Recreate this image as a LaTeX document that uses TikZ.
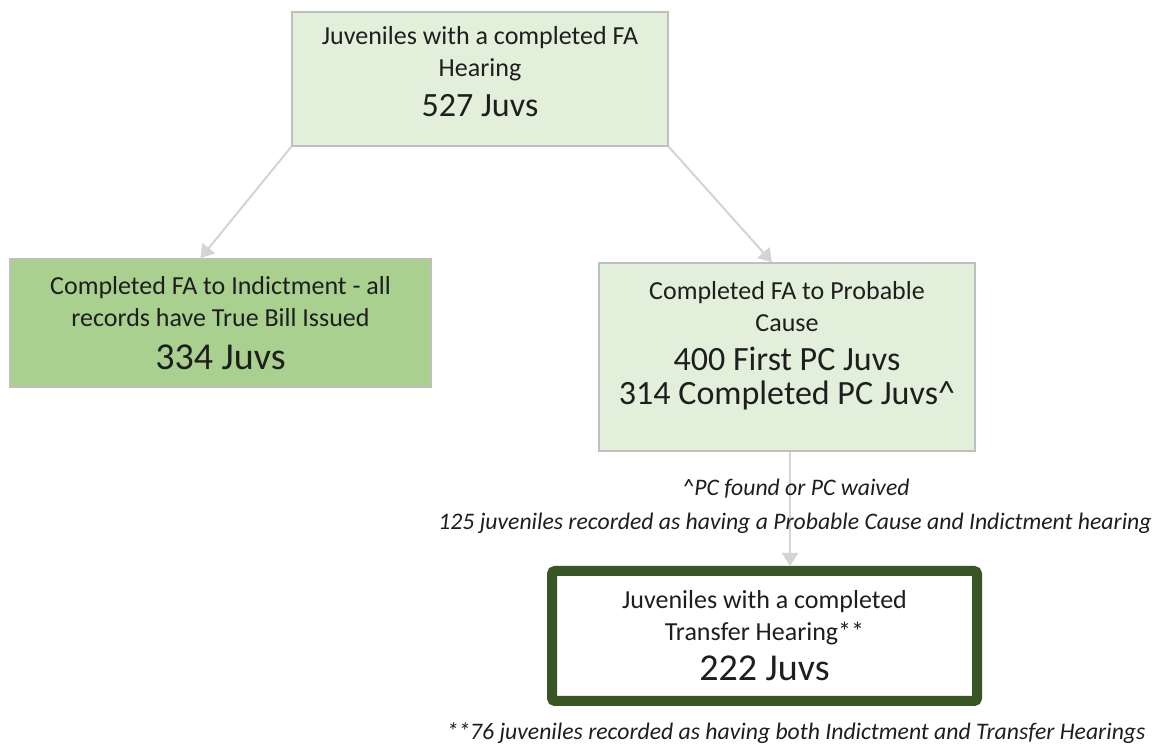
\documentclass[tikz,border=0pt]{standalone}
\usepackage{fontspec}
\setmainfont{Carlito}
\usetikzlibrary{arrows.meta}
\newcommand{\boxtxt}{\fontsize{26}{32}\selectfont}
\newcommand{\boxnum}{\fontsize{34}{40}\selectfont}
\newcommand{\boxbig}{\fontsize{38}{44}\selectfont}
\begin{document}
\begin{tikzpicture}[x=1pt,y=1pt,
  box/.style={draw=boxBorder,line width=1.5pt,align=center,text=textColor,
    inner sep=0pt,font=\boxtxt},
  link/.style={draw=linkColor,line width=2pt,
    -{Triangle[width=16pt,length=13pt]}},
  note/.style={text=textColor,inner sep=0pt,
    font=\fontsize{23.7}{28}\selectfont\itshape}]
\definecolor{boxBorder}{RGB}{191,191,191}
\definecolor{paleGreen}{RGB}{226,239,218}
\definecolor{midGreen}{RGB}{169,208,142}
\definecolor{darkGreen}{RGB}{56,86,35}
\definecolor{linkColor}{RGB}{212,212,212}
\definecolor{textColor}{RGB}{30,30,30}
\path[use as bounding box,fill=white] (0,0) rectangle (1152,749);

% boxes
\node[box,fill=paleGreen,minimum width=376,minimum height=134] (fa) at (480,670)
  {Juveniles with a completed FA\\ Hearing\\[8pt] {\boxnum 527 Juvs}\\[-16pt] ~};
\node[box,fill=midGreen,minimum width=421,minimum height=128] (indict) at (220.5,426)
  {Completed FA to Indictment - all\\ records have True Bill Issued\\[11pt] {\boxbig 334 Juvs}};
\node[box,fill=paleGreen,minimum width=376,minimum height=188] (pc) at (787,392)
  {Completed FA to Probable\\ Cause\\[7pt] {\boxnum 400 First PC Juvs}\\[2pt]
   {\boxnum 314 Completed PC Juvs\^{}}\\[-4pt] ~};
\node[box,draw=darkGreen,line width=10pt,rounded corners=3pt,fill=white,
  minimum width=425,minimum height=130] (transfer) at (764.5,113)
  {Juveniles with a completed\\ Transfer Hearing**\\[8pt] {\boxbig 222 Juvs}};

% links
\draw[link] (fa.south west) -- ([xshift=-20pt]indict.north);
\draw[link] (fa.south east) -- ([xshift=-15pt]pc.north);
\draw[link] ([xshift=3pt]pc.south) -- ([xshift=3pt]pc.south |- transfer.north);

% notes
\node[note] (pcnote) at (796,260) {\^{}PC found or PC waived};
\node[note] (pcboth) at (795,226) {125 juveniles recorded as having a Probable Cause and Indictment hearing};
\node[note] (trboth) at (796,16) {**76 juveniles recorded as having both Indictment and Transfer Hearings};
\end{tikzpicture}
\end{document}
